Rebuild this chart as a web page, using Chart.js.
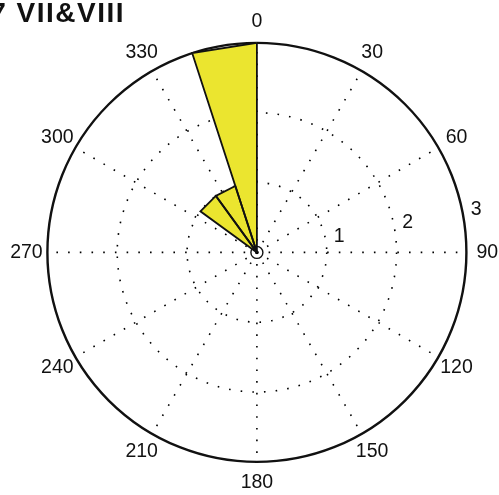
<!DOCTYPE html>
<html>
<head>
<meta charset="utf-8">
<script src="https://cdn.jsdelivr.net/npm/chart.js@4.4.1/dist/chart.umd.min.js"></script>
<style>
  body { margin: 0; background: #fff; }
  #wrap { position: relative; width: 499px; height: 495px; }
</style>
</head>
<body>
<div id="wrap"><canvas id="rose"></canvas></div>
<script>
// rose histogram data (compass degrees, 0 at top, clockwise)
const chartTitle = '7 VII&VIII';
const binStartDeg = [306, 324, 342];
const binWidthDeg = 18;
const binCounts = [1, 1, 3];
const ringTicks = [1, 2, 3];
const spokeAngles = [0, 30, 60, 90, 120, 150, 180, 210, 240, 270, 300, 330];
const angleLabels = ['0', '30', '60', '90', '120', '150', '180', '210', '240', '270', '300', '330'];

const rad = d => d * Math.PI / 180;
const fontFace = '"Liberation Sans", Arial, sans-serif';
const inkColor = '#111';
const wedgeColor = '#ebe52f';

// each wedge is a triangle: center -> outer corner -> outer corner -> center
const wedgeSets = binStartDeg.map((a, i) => {
    const a2 = a + binWidthDeg;
    const r = binCounts[i];
    return {
        data: [
            { x: 0, y: 0 },
            { x: r * Math.sin(rad(a)), y: r * Math.cos(rad(a)) },
            { x: r * Math.sin(rad(a2)), y: r * Math.cos(rad(a2)) },
            { x: 0, y: 0 }
        ],
        showLine: true,
        fill: false,
        borderColor: inkColor,
        borderWidth: 1.8,
        pointRadius: 0,
        tension: 0
    };
});

const roseGrid = {
    id: 'roseGrid',
    beforeDatasetsDraw(chart) {
        const { ctx, scales: { x, y } } = chart;
        const cx = x.getPixelForValue(0), cy = y.getPixelForValue(0);
        const unit = x.getPixelForValue(1) - cx;
        const rMax = ringTicks[ringTicks.length - 1];
        ctx.save();
        ctx.strokeStyle = '#000';
        ctx.lineWidth = 1.6;
        ctx.setLineDash([1.6, 10.1]);
        // dotted inner rings
        ringTicks.slice(0, -1).forEach(r => {
            ctx.beginPath();
            ctx.arc(cx, cy, r * unit, 0, Math.PI * 2);
            ctx.stroke();
        });
        // dotted spokes
        spokeAngles.forEach(a => {
            ctx.beginPath();
            ctx.moveTo(cx, cy);
            ctx.lineTo(cx + rMax * unit * Math.sin(rad(a)), cy - rMax * unit * Math.cos(rad(a)));
            ctx.stroke();
        });
        ctx.setLineDash([]);
        // solid outer ring
        ctx.strokeStyle = inkColor;
        ctx.lineWidth = 2.4;
        ctx.beginPath();
        ctx.arc(cx, cy, rMax * unit, 0, Math.PI * 2);
        ctx.stroke();
        // small circle at center
        ctx.lineWidth = 1.4;
        ctx.beginPath();
        ctx.arc(cx, cy, 6, 0, Math.PI * 2);
        ctx.stroke();
        // wedge fills from the points the library placed
        chart.data.datasets.forEach((ds, i) => {
            const pts = chart.getDatasetMeta(i).data;
            ctx.beginPath();
            pts.forEach((p, j) => j ? ctx.lineTo(p.x, p.y) : ctx.moveTo(p.x, p.y));
            ctx.closePath();
            ctx.fillStyle = wedgeColor;
            ctx.fill();
        });
        ctx.restore();
    },
    afterDraw(chart) {
        const { ctx, scales: { x, y } } = chart;
        const cx = x.getPixelForValue(0), cy = y.getPixelForValue(0);
        const unit = x.getPixelForValue(1) - cx;
        const rMax = ringTicks[ringTicks.length - 1];
        ctx.save();
        ctx.fillStyle = inkColor;
        ctx.font = '19.5px ' + fontFace;
        ctx.textAlign = 'center';
        ctx.textBaseline = 'middle';
        // angle labels
        spokeAngles.forEach((a, i) => {
            const r = rMax * 1.1 * unit;
            ctx.fillText(angleLabels[i], cx + r * Math.sin(rad(a)), cy - r * Math.cos(rad(a)));
        });
        // ring labels
        ringTicks.forEach(t => {
            const r = (t + 0.2) * unit;
            ctx.fillText(String(t), cx + r * Math.sin(rad(79)), cy - r * Math.cos(rad(79)));
        });
        // title, cut off on the left like the original
        ctx.font = 'bold 28px ' + fontFace;
        ctx.textAlign = 'right';
        ctx.textBaseline = 'alphabetic';
        ctx.letterSpacing = '1.5px';
        ctx.fillText(chartTitle, 125, 22);
        ctx.restore();
    }
};

new Chart(document.getElementById('rose'), {
    type: 'scatter',
    data: { datasets: wedgeSets },
    options: {
        responsive: true,
        maintainAspectRatio: false,
        animation: false,
        layout: { padding: { left: 47.4, right: 32.6, top: 42.8, bottom: 33 } },
        scales: {
            x: { type: 'linear', min: -3, max: 3, display: false },
            y: { type: 'linear', min: -3, max: 3, display: false }
        },
        plugins: {
            legend: { display: false },
            tooltip: { enabled: false }
        }
    },
    plugins: [roseGrid]
});
</script>
</body>
</html>
